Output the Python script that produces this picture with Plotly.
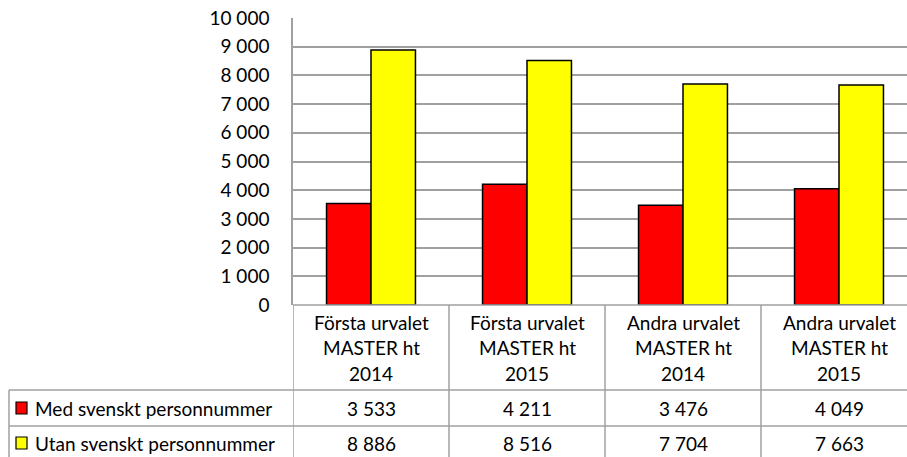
import plotly.graph_objects as go

# ---- data ----
categories = [
    "Första urvalet<br>MASTER ht<br>2014",
    "Första urvalet<br>MASTER ht<br>2015",
    "Andra urvalet<br>MASTER ht<br>2014",
    "Andra urvalet<br>MASTER ht<br>2015",
]
series_names = ["Med svenskt personnummer", "Utan svenskt personnummer"]
med_values = [3533, 4211, 3476, 4049]
utan_values = [8886, 8516, 7704, 7663]
series_colors = ["#FF0000", "#FFFF00"]
y_tickvals = [0, 1000, 2000, 3000, 4000, 5000, 6000, 7000, 8000, 9000, 10000]
y_ticktext = ["0", "1 000", "2 000", "3 000", "4 000", "5 000",
              "6 000", "7 000", "8 000", "9 000", "10 000"]

# ---- layout geometry (pixels) ----
W, H = 907, 457
L, R, T, B = 293, 0, 18, 152
PW = W - L - R
PH = H - T - B
CAT_PX = 156.0
FONT = "Lato"
FS = 19
GRID = "#A0A0A0"
TXT = "#000000"


def px_x(p):
    return (p - L) / PW


def px_y(p):
    return (H - B - p) / PH


xs = list(range(len(categories)))
fig = go.Figure()
for name, vals, col in zip(series_names, [med_values, utan_values], series_colors):
    fig.add_trace(go.Bar(
        x=xs, y=vals, name=name,
        marker=dict(color=col, line=dict(color="#000000", width=1.5)),
        hoverinfo="y",
    ))

shapes = []
annotations = []
line = dict(color=GRID, width=1.5)

# table horizontal lines
shapes.append(dict(type="line", xref="paper", yref="paper",
                   x0=0, x1=1, y0=px_y(305), y1=px_y(305), line=line))
for yy in [390, 426, 461]:
    shapes.append(dict(type="line", xref="paper", yref="paper",
                       x0=px_x(9), x1=1, y0=px_y(yy), y1=px_y(yy), line=line))
# table vertical lines
for i in range(len(categories)):
    shapes.append(dict(type="line", xref="x", yref="paper",
                       x0=i - 0.5, x1=i - 0.5, y0=px_y(305), y1=px_y(470), line=line))
shapes.append(dict(type="line", xref="paper", yref="paper",
                   x0=px_x(9), x1=px_x(9), y0=px_y(390), y1=px_y(470), line=line))

# header lines
line_y = [322, 348, 373]
for i, cat in enumerate(categories):
    for k, part in enumerate(cat.split("<br>")):
        annotations.append(dict(x=i, y=px_y(line_y[k]), xref="x", yref="paper",
                                text=part, showarrow=False, xanchor="center",
                                yanchor="middle", font=dict(family=FONT, size=FS, color=TXT)))

# data rows
row_y = [408, 443]
for r, (name, vals, col) in enumerate(zip(series_names, [med_values, utan_values], series_colors)):
    yc = row_y[r]
    shapes.append(dict(type="rect", xref="paper", yref="paper",
                       x0=px_x(16), x1=px_x(27), y0=px_y(yc - 6), y1=px_y(yc + 6),
                       fillcolor=col, line=dict(color="#000000", width=1.2)))
    annotations.append(dict(x=px_x(33), y=px_y(yc), xref="paper", yref="paper",
                            text=name, showarrow=False, xanchor="left", yanchor="middle",
                            font=dict(family=FONT, size=FS, color=TXT)))
    for i, v in enumerate(vals):
        annotations.append(dict(x=i, y=px_y(yc), xref="x", yref="paper",
                                text=f"{v:,}".replace(",", " "), showarrow=False,
                                xanchor="center", yanchor="middle",
                                font=dict(family=FONT, size=FS, color=TXT)))

fig.update_layout(
    width=W, height=H,
    margin=dict(l=L, r=R, t=T, b=B, pad=0),
    paper_bgcolor="#FFFFFF", plot_bgcolor="#FFFFFF",
    barmode="group", bargap=0.43, bargroupgap=0,
    showlegend=False,
    font=dict(family=FONT, size=FS, color=TXT),
    xaxis=dict(range=[-0.5, -0.5 + PW / CAT_PX], showticklabels=False,
               showgrid=False, zeroline=False, showline=False, fixedrange=True),
    yaxis=dict(range=[0, 10000], tickvals=y_tickvals, ticktext=y_ticktext,
               showgrid=True, gridcolor=GRID, gridwidth=1.5, zeroline=False,
               showline=True, linecolor=GRID, linewidth=1.5,
               ticks="outside", ticklen=18, tickcolor="rgba(0,0,0,0)",
               tickfont=dict(family=FONT, size=FS, color=TXT), fixedrange=True),
    shapes=shapes, annotations=annotations,
)

fig.write_html(
    "out.html",
    config={"displayModeBar": False},
    post_script="document.body.style.margin='0';document.body.style.overflow='hidden';",
)
